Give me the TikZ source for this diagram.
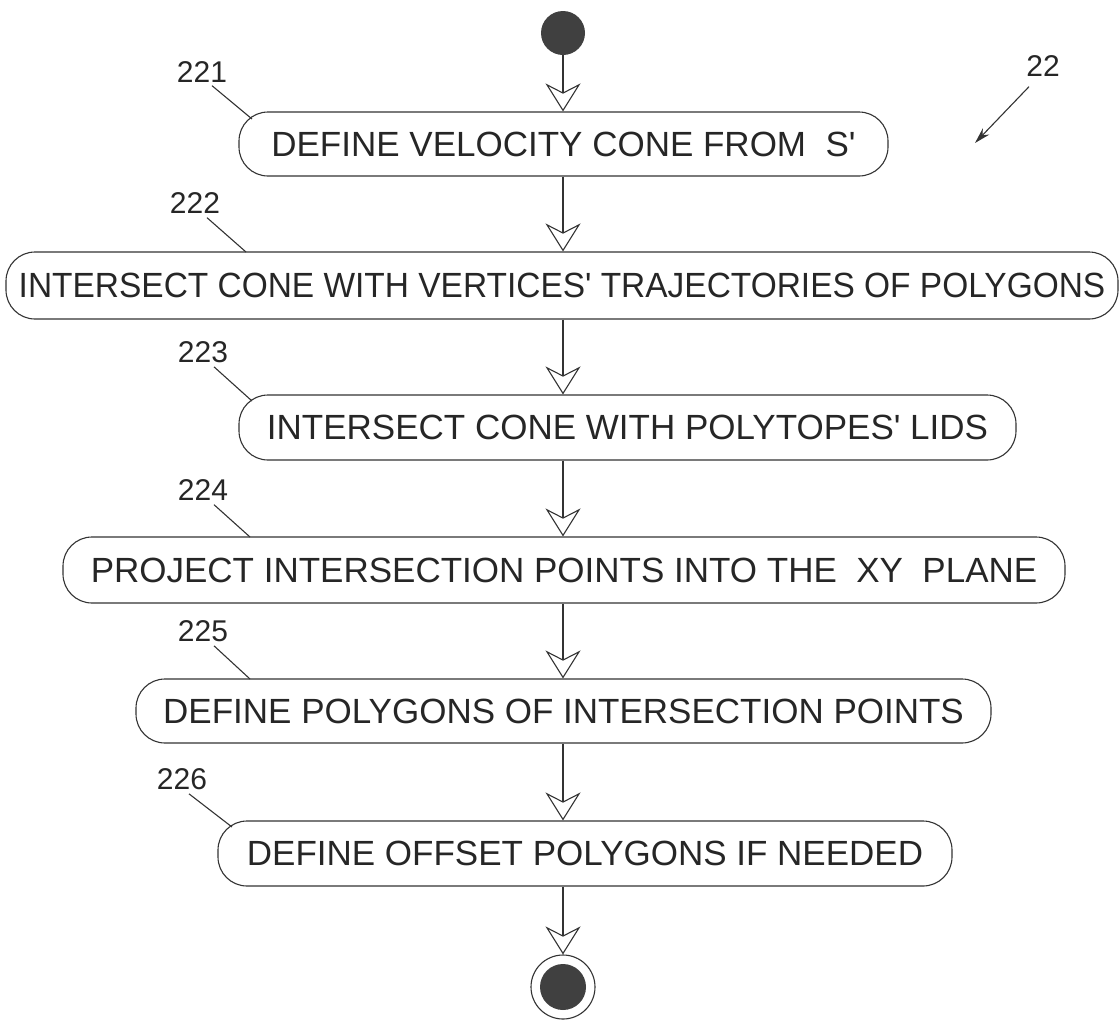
\documentclass[tikz,border=0pt]{standalone}
\usepackage{fontspec}
\setmainfont{Liberation Sans}
\usetikzlibrary{arrows.meta,calc}
\begin{document}
\begin{tikzpicture}[x=1pt,y=-1pt,
  ln/.style={draw=black!80, line width=1.1pt},
  actbox/.style={ln, rounded corners=29pt, inner sep=0pt, font=\fontsize{35}{42}\selectfont, text=black!85},
  flow/.style={ln, -{Stealth[open, length=28pt, width=35pt, inset=9pt, line width=1.1pt]}},
  reflbl/.style={font=\fontsize{30}{35}\selectfont, inner sep=0pt, text=black!85},
]
\useasboundingbox (0,0) rectangle (1120,1021);
\node[circle, fill=black!75, minimum size=44pt, inner sep=0pt] (start) at (563,33) {};
\node[actbox, minimum width=649pt, minimum height=64pt] (b1) at (563.5,144) {DEFINE VELOCITY CONE FROM\ \ S\textquotesingle};
\node[actbox, minimum width=1112pt, minimum height=67pt] (b2) at (562,285.5) {\scalebox{0.956}[1]{INTERSECT CONE WITH VERTICES\textquotesingle\ TRAJECTORIES OF POLYGONS}};
\node[actbox, minimum width=777pt, minimum height=65pt] (b3) at (627.5,427.5) {INTERSECT CONE WITH POLYTOPES\textquotesingle\ LIDS};
\node[actbox, minimum width=1002pt, minimum height=66pt] (b4) at (564,570) {PROJECT INTERSECTION POINTS INTO THE\ \ XY\ \ PLANE};
\node[actbox, minimum width=855pt, minimum height=64pt] (b5) at (563.5,711) {DEFINE POLYGONS OF INTERSECTION POINTS};
\node[actbox, minimum width=734pt, minimum height=65pt] (b6) at (585,853.5) {DEFINE OFFSET POLYGONS IF NEEDED};
\node[circle, ln, minimum size=64pt, inner sep=0pt] (end) at (563,987) {};
\node[circle, fill=black!75, minimum size=46pt, inner sep=0pt] (endin) at (563,987) {};

\draw[flow] (start) -- (b1.north -| start);
\draw[flow] (b1.south -| start) -- (b2.north -| start);
\draw[flow] (b2.south -| start) -- (b3.north -| start);
\draw[flow] (b3.south -| start) -- (b4.north -| start);
\draw[flow] (b4.south -| start) -- (b5.north -| start);
\draw[flow] (b5.south -| start) -- (b6.north -| start);
\draw[flow] (b6.south -| start) -- (end.north);

\node[reflbl] (l221) at (202,72) {221};
\node[reflbl] (l222) at (195,203) {222};
\node[reflbl] (l223) at (203,352) {223};
\node[reflbl] (l224) at (203,490) {224};
\node[reflbl] (l225) at (203,631) {225};
\node[reflbl] (l226) at (182,779) {226};
\node[reflbl] (l22) at (1043,66) {22};

\coordinate (a221) at (252,119);
\coordinate (a222) at (246,252);
\coordinate (a223) at (252,401);
\coordinate (a224) at (250,537);
\coordinate (a225) at (250,679);
\coordinate (a226) at (232,827);
\coordinate (a22) at (975,143);

\draw[ln] ([shift={(10,3)}]l221.south) -- (a221);
\draw[ln] ([shift={(12,4)}]l222.south) -- (a222);
\draw[ln] ([shift={(11,4)}]l223.south) -- (a223);
\draw[ln] ([shift={(11,4)}]l224.south) -- (a224);
\draw[ln] ([shift={(11,4)}]l225.south) -- (a225);
\draw[ln] ([shift={(7,4)}]l226.south) -- (a226);
\draw[ln, -{Stealth[length=16pt, width=9pt]}] ([shift={(-14,10)}]l22.south) -- (a22);
\end{tikzpicture}
\end{document}
